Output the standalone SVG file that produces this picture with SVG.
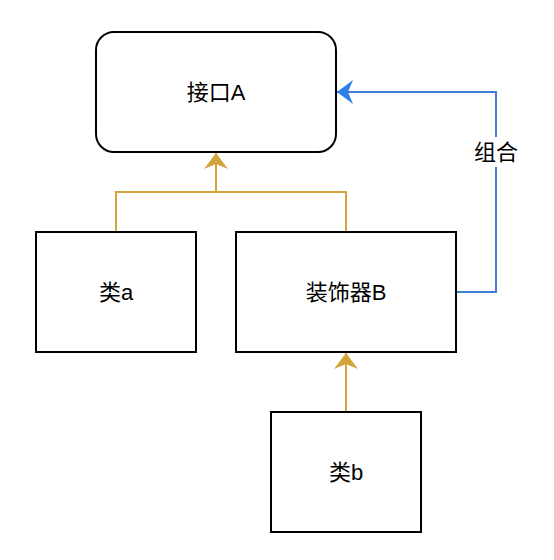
<svg xmlns="http://www.w3.org/2000/svg" width="554" height="560" viewBox="0 0 554 560">
<style>
.box{fill:#fff;stroke:#000;stroke-width:2}
.t{font-family:"Liberation Sans","Noto Sans CJK SC",sans-serif;font-size:22px;fill:#000;text-anchor:middle;dominant-baseline:central}
.gold{fill:none;stroke:#d4a43c;stroke-width:2}
.blue{fill:none;stroke:#3f7fd6;stroke-width:2}
</style>
<defs>
<marker id="ag" viewBox="0 0 10 10" refX="10" refY="5" markerWidth="10" markerHeight="10" markerUnits="userSpaceOnUse" orient="auto" overflow="visible">
<path d="M-6,-7 L10,5 L-6,17 L-1,5 Z" fill="#d4a43c"/>
</marker>
<marker id="ab" viewBox="0 0 10 10" refX="10" refY="5" markerWidth="10" markerHeight="10" markerUnits="userSpaceOnUse" orient="auto" overflow="visible">
<path d="M-6,-7 L10,5 L-6,17 L-1,5 Z" fill="#2f7fe8"/>
</marker>
</defs>
<g id="connectors">
<path class="gold" d="M116,232 V192 H216 V153" marker-end="url(#ag)"/>
<path class="gold" d="M346,232 V192 H216"/>
<path class="gold" d="M346,412 V353" marker-end="url(#ag)"/>
<path class="blue" d="M456,292 H496 V92 H337" marker-end="url(#ab)"/>
<rect x="470" y="137" width="52" height="30" fill="#fff"/>
<text class="t" x="496" y="152">组合</text>
</g>
<g id="interfaceA">
<rect class="box" x="96" y="32" width="240" height="120" rx="18"/>
<text class="t" x="216" y="92">接口A</text>
</g>
<g id="classA">
<rect class="box" x="36" y="232" width="160" height="120"/>
<text class="t" x="116" y="292">类a</text>
</g>
<g id="decoratorB">
<rect class="box" x="236" y="232" width="220" height="120"/>
<text class="t" x="346" y="292">装饰器B</text>
</g>
<g id="classB">
<rect class="box" x="271" y="412" width="150" height="120"/>
<text class="t" x="346" y="472">类b</text>
</g>
</svg>
